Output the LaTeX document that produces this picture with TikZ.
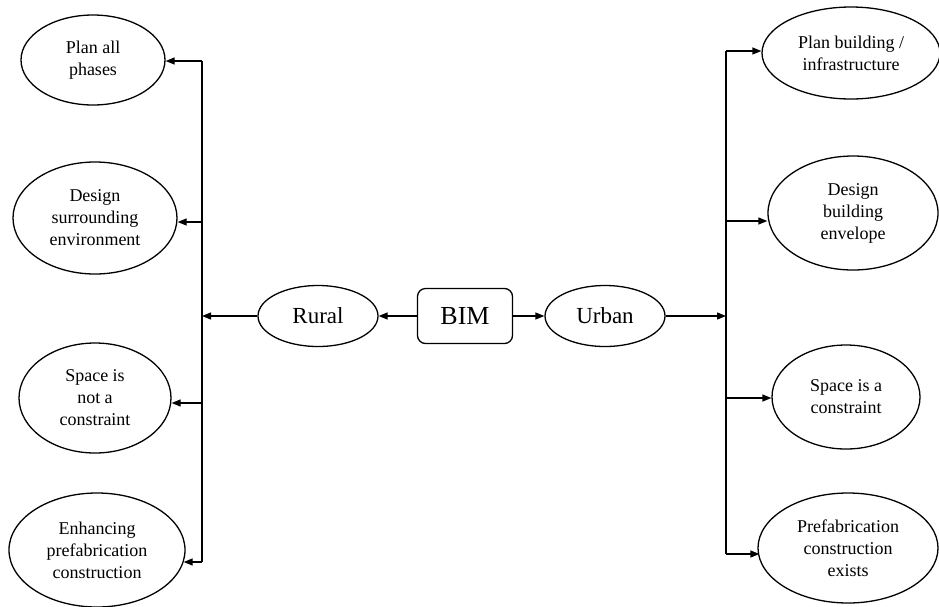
\documentclass[tikz,border=0pt]{standalone}
\usepackage{fontspec}
\setmainfont{Liberation Serif}
\usetikzlibrary{shapes.geometric,arrows.meta}
\begin{document}
\begin{tikzpicture}[x=1pt,y=-1pt,
  line width=1.3pt,
  oval/.style={ellipse,draw,inner sep=0pt,align=center,
    font=\fontsize{18}{22}\selectfont},
  hub/.style={ellipse,draw,inner sep=0pt,minimum width=120pt,minimum height=61pt,
    font=\fontsize{23}{27}\selectfont},
  core/.style={draw,rounded corners=8pt,minimum width=95pt,minimum height=55pt,
    inner sep=0pt,font=\fontsize{26}{30}\selectfont},
  tip/.style={-{Triangle[length=9pt,width=7pt]}}]
\useasboundingbox (0,0) rectangle (939,606);
\clip (0,0) rectangle (939,606);

% centre
\node[core] (bim) at (465,316) {BIM};
\node[hub] (rural) at (318,316) {Rural};
\node[hub] (urban) at (605,316) {Urban};

% rural branch
\node[oval,minimum width=144pt,minimum height=90pt] (l1) at (93,60) {Plan all\\phases};
\node[oval,minimum width=164pt,minimum height=112pt] (l2) at (95,218) {Design\\surrounding\\environment};
\node[oval,minimum width=152pt,minimum height=110pt] (l3) at (95,398) {Space is\\not a\\constraint};
\node[oval,minimum width=176pt,minimum height=114pt] (l4) at (97,550) {Enhancing\\prefabrication\\construction};

% urban branch
\node[oval,minimum width=178pt,minimum height=92pt] (r1) at (851,53) {Plan building /\\infrastructure};
\node[oval,minimum width=170pt,minimum height=114pt] (r2) at (853,213) {Design\\building\\envelope};
\node[oval,minimum width=148pt,minimum height=104pt] (r3) at (846,397) {Space is a\\constraint};
\node[oval,minimum width=180pt,minimum height=110pt] (r4) at (848,548) {Prefabrication\\construction\\exists};

% bus points
\coordinate (lt) at (202,61);
\coordinate (la) at (202,222);
\coordinate (lm) at (202,316);
\coordinate (lb) at (202,403);
\coordinate (lz) at (202,562);
\coordinate (rt) at (726,51);
\coordinate (ra) at (726,221);
\coordinate (rm) at (726,316);
\coordinate (rb) at (726,398);
\coordinate (rz) at (726,554);

\draw (lt) -- (lz);
\draw (rt) -- (rz);

\draw[tip] (bim.west) -- (rural.east);
\draw[tip] (bim.east) -- (urban.west);
\draw[tip] (rural.west) -- (lm);
\draw[tip] (urban.east) -- (rm);

\draw[tip] (lt) -- (lt -| l1.east);
\draw[tip] (la) -- (la -| l2.east);
\draw[tip] (lb) -- (lb -| l3.east);
\draw[tip] (lz) -- ([xshift=-2pt]lz -| l4.east);

\draw[tip] (rt) -- (rt -| r1.west);
\draw[tip] (ra) -- (ra -| r2.west);
\draw[tip] (rb) -- (rb -| r3.west);
\draw[tip] (rz) -- ([xshift=2pt]rz -| r4.west);
\end{tikzpicture}
\end{document}
